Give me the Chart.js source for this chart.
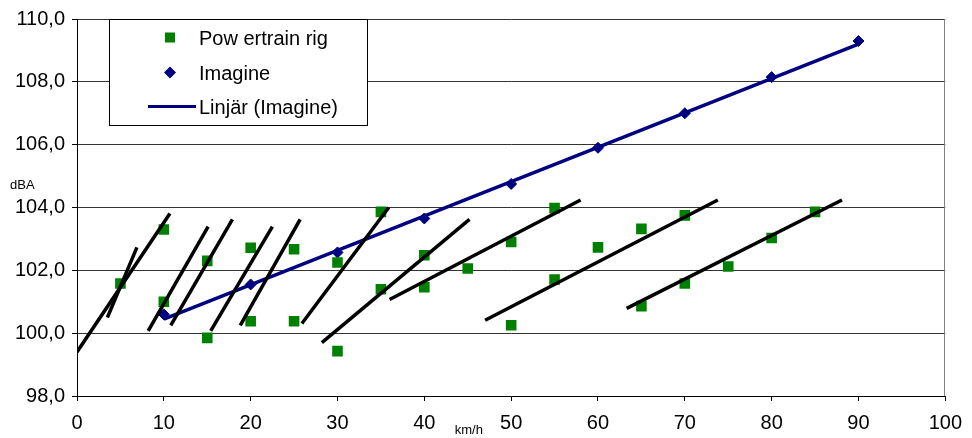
<!DOCTYPE html>
<html>
<head>
<meta charset="utf-8">
<script src="https://cdn.jsdelivr.net/npm/chart.js@4/dist/chart.umd.min.js"></script>
<style>
  html, body { margin: 0; padding: 0; background: #fff; }
  #wrap { width: 972px; height: 438px; }
</style>
</head>
<body>
<div id="wrap"><canvas id="c" width="972" height="438"></canvas></div>
<script>
// Measured noise levels (dBA) against vehicle speed (km/h)
const rigSpeed = [5, 10, 10, 15, 15, 20, 20, 25, 25, 30, 30, 35, 35, 40, 40, 45, 50, 50, 55, 55, 60, 65, 65, 70, 70, 75, 80, 85];
const rigLevel = [101.58, 103.3, 101.0, 102.3, 99.85, 102.72, 100.38, 102.67, 100.38, 102.25, 99.43, 103.86, 101.4, 102.48, 101.46, 102.06, 102.9, 100.25, 103.98, 101.71, 102.73, 103.32, 100.86, 103.75, 101.58, 102.12, 103.03, 103.86];

const imagineSpeed = [10, 20, 30, 40, 50, 60, 70, 80, 90];
const imagineLevel = [100.6, 101.55, 102.57, 103.65, 104.75, 105.9, 107.0, 108.15, 109.3];

// Linear trend of the Imagine series (end points)
const trendSpeed = [10, 90];
const trendLevel = [100.45, 109.2];

// Per-gear run-up lines: start and end points
const gearFromSpeed = [0, 3.5, 8.2, 10.8, 15.4, 18.8, 25.9, 28.2, 36.0, 47.0, 63.3];
const gearFromLevel = [99.4, 100.5, 100.07, 100.25, 100.07, 100.25, 100.31, 99.7, 101.07, 100.41, 100.79];
const gearToSpeed = [10.7, 6.9, 15.1, 17.9, 22.5, 25.7, 35.9, 45.2, 58.0, 73.8, 88.1];
const gearToLevel = [103.81, 102.73, 103.39, 103.62, 103.39, 103.62, 104.0, 103.62, 104.24, 104.24, 104.24];

const legendLabels = ['Pow ertrain rig', 'Imagine', 'Linjär (Imagine)'];
const xTitle = 'km/h';
const yTitle = 'dBA';

const FONT = "'Liberation Sans', Arial, sans-serif";
const GREEN = '#008000';
const NAVY = '#000080';

const pts = (xs, ys) => xs.map((x, i) => ({ x: x, y: ys[i] }));

const gearSets = gearFromSpeed.map((s, i) => ({
  type: 'line',
  data: [{ x: s, y: gearFromLevel[i] }, { x: gearToSpeed[i], y: gearToLevel[i] }],
  borderColor: '#000',
  borderWidth: 3.5,
  pointRadius: 0,
  fill: false,
  order: 0
}));

const datasets = [
  ...gearSets,
  {
    type: 'scatter',
    label: legendLabels[0],
    data: pts(rigSpeed, rigLevel),
    pointStyle: 'rect',
    pointRadius: 7.5,
    backgroundColor: GREEN,
    borderColor: GREEN,
    borderWidth: 0,
    order: 1
  },
  {
    type: 'scatter',
    label: legendLabels[1],
    data: pts(imagineSpeed, imagineLevel),
    pointStyle: 'rectRot',
    pointRadius: 5.5,
    backgroundColor: NAVY,
    borderColor: NAVY,
    borderWidth: 1,
    order: 2
  },
  {
    type: 'line',
    label: legendLabels[2],
    data: pts(trendSpeed, trendLevel),
    borderColor: NAVY,
    borderWidth: 3.5,
    pointRadius: 0,
    fill: false,
    order: 3
  }
];

// Plot frame on the right and axis captions
const frameAndTitles = {
  id: 'frameAndTitles',
  beforeDatasetsDraw(chart) {
    const { ctx, chartArea } = chart;
    ctx.save();
    ctx.strokeStyle = '#808080';
    ctx.lineWidth = 1;
    ctx.beginPath();
    ctx.moveTo(Math.round(chartArea.right) - 0.5, chartArea.top);
    ctx.lineTo(Math.round(chartArea.right) - 0.5, chartArea.bottom);
    ctx.stroke();
    ctx.restore();
  },
  afterDraw(chart) {
    const { ctx, chartArea, scales } = chart;
    ctx.save();
    ctx.fillStyle = '#000';
    ctx.textBaseline = 'alphabetic';
    ctx.textAlign = 'left';
    ctx.font = '13px ' + FONT;
    ctx.fillText(yTitle, 10, 189);
    ctx.fillText(xTitle, scales.x.getPixelForValue(43.5), chartArea.bottom + 38);
    ctx.restore();
  }
};

// Boxed legend inside the top-left of the plot
const legendBox = {
  id: 'legendBox',
  afterDraw(chart) {
    const { ctx, chartArea } = chart;
    const x = chartArea.left + 32, y = chartArea.top, w = 259, h = 107;
    ctx.save();
    ctx.fillStyle = '#fff';
    ctx.fillRect(x, y, w, h);
    ctx.strokeStyle = '#000';
    ctx.lineWidth = 1;
    ctx.strokeRect(x + 0.5, y + 0.5, w - 1, h - 1);

    const mx = x + 61;
    const tx = x + 90;
    const rows = [y + 18.5, y + 53.5, y + 87.5];

    // square marker
    ctx.fillStyle = GREEN;
    ctx.fillRect(mx - 5, rows[0] - 5, 10, 10);
    // diamond marker
    ctx.fillStyle = NAVY;
    ctx.beginPath();
    ctx.moveTo(mx, rows[1] - 6);
    ctx.lineTo(mx + 6, rows[1]);
    ctx.lineTo(mx, rows[1] + 6);
    ctx.lineTo(mx - 6, rows[1]);
    ctx.closePath();
    ctx.fill();
    // line sample
    ctx.strokeStyle = NAVY;
    ctx.lineWidth = 3;
    ctx.beginPath();
    ctx.moveTo(x + 39, rows[2]);
    ctx.lineTo(x + 87, rows[2]);
    ctx.stroke();

    ctx.fillStyle = '#000';
    ctx.font = '20px ' + FONT;
    ctx.textAlign = 'left';
    ctx.textBaseline = 'alphabetic';
    legendLabels.forEach((t, i) => ctx.fillText(t, tx, rows[i] + 7));
    ctx.restore();
  }
};

new Chart(document.getElementById('c'), {
  type: 'scatter',
  data: { datasets: datasets },
  options: {
    responsive: false,
    animation: false,
    layout: { padding: { left: 0, right: 25, top: 19, bottom: 0 } },
    plugins: { legend: { display: false }, tooltip: { enabled: false } },
    scales: {
      x: {
        type: 'linear',
        min: 0, max: 100,
        afterFit(scale) { scale.height = 42; },
        ticks: {
          stepSize: 10,
          color: '#000',
          font: { family: FONT, size: 20 },
          padding: 10,
          maxRotation: 0
        },
        grid: { drawOnChartArea: false, drawTicks: true, tickLength: 5, tickColor: '#000' },
        border: { display: true, color: '#000', width: 1 }
      },
      y: {
        type: 'linear',
        min: 98, max: 110,
        afterFit(scale) { scale.width = 77; },
        ticks: {
          stepSize: 2,
          color: '#000',
          font: { family: FONT, size: 20 },
          padding: 7,
          callback: v => v.toFixed(1).replace('.', ',')
        },
        grid: { color: '#333', lineWidth: 1, drawTicks: true, tickLength: 5, tickColor: '#000' },
        border: { display: true, color: '#000', width: 1 }
      }
    }
  },
  plugins: [frameAndTitles, legendBox]
});
</script>
</body>
</html>
